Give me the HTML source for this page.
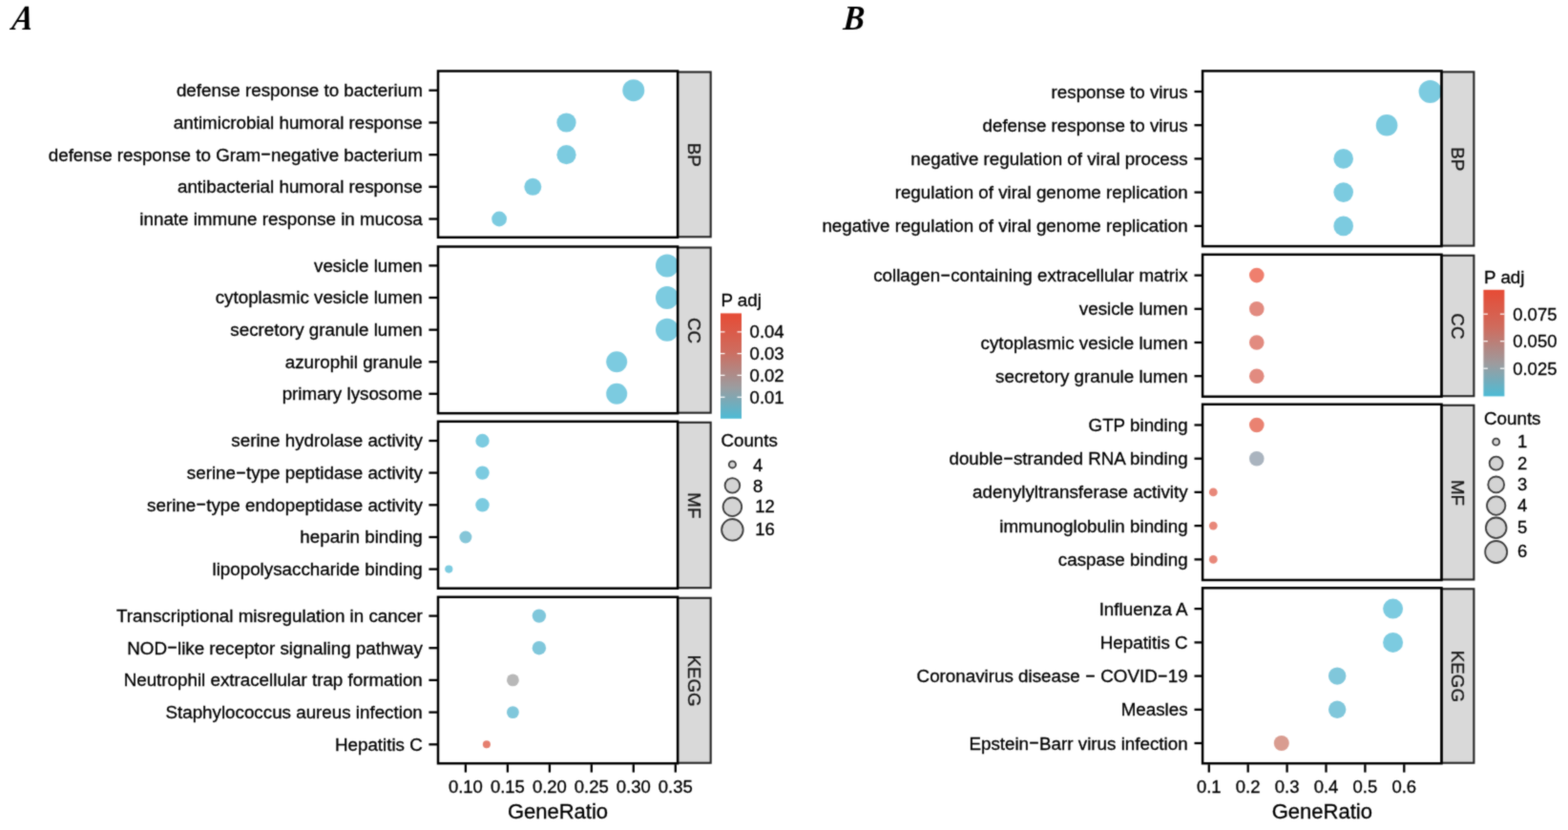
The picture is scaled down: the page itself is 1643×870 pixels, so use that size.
<!DOCTYPE html>
<html lang="en">
<head>
<meta charset="utf-8">
<title>GO / KEGG enrichment dot plots</title>
<style>
html,body{margin:0;padding:0;background:#fff;}
body{width:1643px;height:870px;overflow:hidden;}
svg{display:block;}
text{font-family:"Liberation Sans",Arial,Helvetica,sans-serif;fill:#000;stroke:#000;stroke-width:0.3px;}
.d{stroke-width:0.45px;}
.yl{font-size:18.8px;}
.xt{font-size:18.5px;}
.at{font-size:22px;}
.lt{font-size:18.8px;}
.ll{font-size:18.5px;}
.st{font-size:18.8px;fill:#1a1a1a;}
.pl{font-family:"Liberation Serif","Times New Roman",serif;font-weight:bold;font-style:italic;stroke:none;font-size:36.6px;}
</style>
</head>
<body>
<svg width="1643" height="870" viewBox="0 0 1643 870">
<defs>
<linearGradient id="cb" x1="0" y1="0" x2="0" y2="1">
<stop offset="0" stop-color="#e64b35"/>
<stop offset="0.35" stop-color="#cf6b5d"/>
<stop offset="0.70" stop-color="#9c9c9f"/>
<stop offset="1" stop-color="#4dbbd5"/>
</linearGradient>
<filter id="soft" x="-5" y="-5" width="1653" height="880" filterUnits="userSpaceOnUse" color-interpolation-filters="sRGB"><feConvolveMatrix order="3" kernelMatrix="0.4 1 0.4 1 5 1 0.4 1 0.4" edgeMode="duplicate" preserveAlpha="true"/></filter>
</defs>
<g filter="url(#soft)">
<rect x="-5" y="-5" width="1653" height="880" fill="#fff"/>

<text class="pl" transform="translate(11.6 30.7) skewX(-9) scale(0.9 1)">A</text>
<text class="pl" transform="translate(883.0 30.7) skewX(-4) scale(0.91 1)">B</text>
<g id="panelA">
<g>
<circle cx="663.8" cy="94.7" r="11.5" fill="#7ccbe0"/>
<circle cx="593.5" cy="128.5" r="10.1" fill="#7ccbe0"/>
<circle cx="593.5" cy="162.2" r="10.1" fill="#7ccbe0"/>
<circle cx="558.3" cy="195.8" r="9.0" fill="#7ccbe0"/>
<circle cx="523.1" cy="229.5" r="7.9" fill="#7ccbe0"/>
</g>
<g>
<circle cx="699.0" cy="278.4" r="12.0" fill="#7ccbe0"/>
<circle cx="699.0" cy="312.0" r="12.0" fill="#7ccbe0"/>
<circle cx="699.0" cy="345.7" r="12.0" fill="#7ccbe0"/>
<circle cx="646.2" cy="379.3" r="11.0" fill="#7ccbe0"/>
<circle cx="646.2" cy="412.8" r="11.0" fill="#7ccbe0"/>
</g>
<g>
<circle cx="505.5" cy="462.0" r="7.2" fill="#7ccbe0"/>
<circle cx="505.5" cy="495.6" r="7.2" fill="#7ccbe0"/>
<circle cx="505.5" cy="529.3" r="7.2" fill="#7ccbe0"/>
<circle cx="487.9" cy="563.0" r="6.5" fill="#85c6d8"/>
<circle cx="470.3" cy="596.6" r="4.1" fill="#7ccbe0"/>
</g>
<g>
<circle cx="564.9" cy="645.6" r="7.2" fill="#80c7db"/>
<circle cx="564.9" cy="679.2" r="7.2" fill="#80c7db"/>
<circle cx="537.4" cy="712.9" r="6.4" fill="#b8b8b8"/>
<circle cx="537.4" cy="746.6" r="6.4" fill="#80c7db"/>
<circle cx="509.9" cy="780.3" r="4.0" fill="#e57f6f"/>
</g>
<rect x="710.1" y="75.5" width="34.6" height="172.8" fill="#d9d9d9" stroke="#262626" stroke-width="2.1"/>
<rect x="459.0" y="74.5" width="251.1" height="174.3" fill="none" stroke="#000" stroke-width="2.5"/>
<text class="st" text-anchor="middle" transform="translate(727.4 162.2) rotate(90)" y="6.8">BP</text>
<line x1="449.4" y1="94.7" x2="458.0" y2="94.7" stroke="#000" stroke-width="2.3"/>
<text class="yl" text-anchor="end" x="442.8" y="101.1">defense response to bacterium</text>
<line x1="449.4" y1="128.5" x2="458.0" y2="128.5" stroke="#000" stroke-width="2.3"/>
<text class="yl" text-anchor="end" x="442.8" y="134.9">antimicrobial humoral response</text>
<line x1="449.4" y1="162.2" x2="458.0" y2="162.2" stroke="#000" stroke-width="2.3"/>
<text class="yl" text-anchor="end" x="442.8" y="168.6">defense response to Gram<tspan class="d" textLength="10.98" lengthAdjust="spacingAndGlyphs" dy="-1.32">-</tspan><tspan dy="1.32">negative bacterium</tspan></text>
<line x1="449.4" y1="195.8" x2="458.0" y2="195.8" stroke="#000" stroke-width="2.3"/>
<text class="yl" text-anchor="end" x="442.8" y="202.2">antibacterial humoral response</text>
<line x1="449.4" y1="229.5" x2="458.0" y2="229.5" stroke="#000" stroke-width="2.3"/>
<text class="yl" text-anchor="end" x="442.8" y="235.9">innate immune response in mucosa</text>
<rect x="710.1" y="259.5" width="34.6" height="173.2" fill="#d9d9d9" stroke="#262626" stroke-width="2.1"/>
<rect x="459.0" y="258.5" width="251.1" height="174.7" fill="none" stroke="#000" stroke-width="2.5"/>
<text class="st" text-anchor="middle" transform="translate(727.4 346.5) rotate(90)" y="6.8">CC</text>
<line x1="449.4" y1="278.4" x2="458.0" y2="278.4" stroke="#000" stroke-width="2.3"/>
<text class="yl" text-anchor="end" x="442.8" y="284.8">vesicle lumen</text>
<line x1="449.4" y1="312.0" x2="458.0" y2="312.0" stroke="#000" stroke-width="2.3"/>
<text class="yl" text-anchor="end" x="442.8" y="318.4">cytoplasmic vesicle lumen</text>
<line x1="449.4" y1="345.7" x2="458.0" y2="345.7" stroke="#000" stroke-width="2.3"/>
<text class="yl" text-anchor="end" x="442.8" y="352.1">secretory granule lumen</text>
<line x1="449.4" y1="379.3" x2="458.0" y2="379.3" stroke="#000" stroke-width="2.3"/>
<text class="yl" text-anchor="end" x="442.8" y="385.7">azurophil granule</text>
<line x1="449.4" y1="412.8" x2="458.0" y2="412.8" stroke="#000" stroke-width="2.3"/>
<text class="yl" text-anchor="end" x="442.8" y="419.2">primary lysosome</text>
<rect x="710.1" y="442.8" width="34.6" height="173.4" fill="#d9d9d9" stroke="#262626" stroke-width="2.1"/>
<rect x="459.0" y="441.8" width="251.1" height="174.9" fill="none" stroke="#000" stroke-width="2.5"/>
<text class="st" text-anchor="middle" transform="translate(727.4 529.9) rotate(90)" y="6.8">MF</text>
<line x1="449.4" y1="462.0" x2="458.0" y2="462.0" stroke="#000" stroke-width="2.3"/>
<text class="yl" text-anchor="end" x="442.8" y="468.4">serine hydrolase activity</text>
<line x1="449.4" y1="495.6" x2="458.0" y2="495.6" stroke="#000" stroke-width="2.3"/>
<text class="yl" text-anchor="end" x="442.8" y="502.0">serine<tspan class="d" textLength="10.98" lengthAdjust="spacingAndGlyphs" dy="-1.32">-</tspan><tspan dy="1.32">type peptidase activity</tspan></text>
<line x1="449.4" y1="529.3" x2="458.0" y2="529.3" stroke="#000" stroke-width="2.3"/>
<text class="yl" text-anchor="end" x="442.8" y="535.7">serine<tspan class="d" textLength="10.98" lengthAdjust="spacingAndGlyphs" dy="-1.32">-</tspan><tspan dy="1.32">type endopeptidase activity</tspan></text>
<line x1="449.4" y1="563.0" x2="458.0" y2="563.0" stroke="#000" stroke-width="2.3"/>
<text class="yl" text-anchor="end" x="442.8" y="569.4">heparin binding</text>
<line x1="449.4" y1="596.6" x2="458.0" y2="596.6" stroke="#000" stroke-width="2.3"/>
<text class="yl" text-anchor="end" x="442.8" y="603.0">lipopolysaccharide binding</text>
<rect x="710.1" y="626.8" width="34.6" height="172.9" fill="#d9d9d9" stroke="#262626" stroke-width="2.1"/>
<rect x="459.0" y="625.8" width="251.1" height="174.4" fill="none" stroke="#000" stroke-width="2.5"/>
<text class="st" text-anchor="middle" transform="translate(727.4 713.6) rotate(90)" y="6.8">KEGG</text>
<line x1="449.4" y1="645.6" x2="458.0" y2="645.6" stroke="#000" stroke-width="2.3"/>
<text class="yl" text-anchor="end" x="442.8" y="652.0">Transcriptional misregulation in cancer</text>
<line x1="449.4" y1="679.2" x2="458.0" y2="679.2" stroke="#000" stroke-width="2.3"/>
<text class="yl" text-anchor="end" x="442.8" y="685.6">NOD<tspan class="d" textLength="10.98" lengthAdjust="spacingAndGlyphs" dy="-1.32">-</tspan><tspan dy="1.32">like receptor signaling pathway</tspan></text>
<line x1="449.4" y1="712.9" x2="458.0" y2="712.9" stroke="#000" stroke-width="2.3"/>
<text class="yl" text-anchor="end" x="442.8" y="719.3">Neutrophil extracellular trap formation</text>
<line x1="449.4" y1="746.6" x2="458.0" y2="746.6" stroke="#000" stroke-width="2.3"/>
<text class="yl" text-anchor="end" x="442.8" y="753.0">Staphylococcus aureus infection</text>
<line x1="449.4" y1="780.3" x2="458.0" y2="780.3" stroke="#000" stroke-width="2.3"/>
<text class="yl" text-anchor="end" x="442.8" y="786.7">Hepatitis C</text>
<line x1="487.9" y1="801.2" x2="487.9" y2="809.6" stroke="#000" stroke-width="2.3"/>
<text class="xt" text-anchor="middle" x="487.9" y="830.6">0.10</text>
<line x1="531.9" y1="801.2" x2="531.9" y2="809.6" stroke="#000" stroke-width="2.3"/>
<text class="xt" text-anchor="middle" x="531.9" y="830.6">0.15</text>
<line x1="575.9" y1="801.2" x2="575.9" y2="809.6" stroke="#000" stroke-width="2.3"/>
<text class="xt" text-anchor="middle" x="575.9" y="830.6">0.20</text>
<line x1="619.8" y1="801.2" x2="619.8" y2="809.6" stroke="#000" stroke-width="2.3"/>
<text class="xt" text-anchor="middle" x="619.8" y="830.6">0.25</text>
<line x1="663.8" y1="801.2" x2="663.8" y2="809.6" stroke="#000" stroke-width="2.3"/>
<text class="xt" text-anchor="middle" x="663.8" y="830.6">0.30</text>
<line x1="707.8" y1="801.2" x2="707.8" y2="809.6" stroke="#000" stroke-width="2.3"/>
<text class="xt" text-anchor="middle" x="707.8" y="830.6">0.35</text>
<text class="at" text-anchor="middle" x="584.5" y="857.8">GeneRatio</text>
<text class="lt" x="755.4" y="321.0">P adj</text>
<rect x="755.0" y="328.4" width="22.0" height="110.4" fill="url(#cb)"/>
<line x1="755.0" y1="347.9" x2="759.5" y2="347.9" stroke="#fff" stroke-width="1.2"/>
<line x1="772.5" y1="347.9" x2="777.0" y2="347.9" stroke="#fff" stroke-width="1.2"/>
<text class="ll" x="785.6" y="354.3">0.04</text>
<line x1="755.0" y1="370.6" x2="759.5" y2="370.6" stroke="#fff" stroke-width="1.2"/>
<line x1="772.5" y1="370.6" x2="777.0" y2="370.6" stroke="#fff" stroke-width="1.2"/>
<text class="ll" x="785.6" y="377.0">0.03</text>
<line x1="755.0" y1="393.4" x2="759.5" y2="393.4" stroke="#fff" stroke-width="1.2"/>
<line x1="772.5" y1="393.4" x2="777.0" y2="393.4" stroke="#fff" stroke-width="1.2"/>
<text class="ll" x="785.6" y="399.8">0.02</text>
<line x1="755.0" y1="416.3" x2="759.5" y2="416.3" stroke="#fff" stroke-width="1.2"/>
<line x1="772.5" y1="416.3" x2="777.0" y2="416.3" stroke="#fff" stroke-width="1.2"/>
<text class="ll" x="785.6" y="422.7">0.01</text>
<text class="lt" x="755.4" y="468.2">Counts</text>
<circle cx="767.4" cy="486.9" r="3.6" fill="#d4d4d4" stroke="#3c3c3c" stroke-width="1.8"/>
<text class="ll" x="789.0" y="494.0">4</text>
<circle cx="767.4" cy="508.9" r="7.8" fill="#d4d4d4" stroke="#3c3c3c" stroke-width="1.8"/>
<text class="ll" x="789.0" y="515.8">8</text>
<circle cx="767.4" cy="531.3" r="9.8" fill="#d4d4d4" stroke="#3c3c3c" stroke-width="1.8"/>
<text class="ll" x="791.2" y="536.8">12</text>
<circle cx="767.4" cy="555.3" r="11.3" fill="#d4d4d4" stroke="#3c3c3c" stroke-width="1.8"/>
<text class="ll" x="791.2" y="561.2">16</text>
</g>
<g id="panelB">
<g>
<circle cx="1498.6" cy="96.0" r="12.0" fill="#7ccbe0"/>
<circle cx="1453.1" cy="131.2" r="11.3" fill="#7ccbe0"/>
<circle cx="1407.7" cy="166.4" r="10.3" fill="#7ccbe0"/>
<circle cx="1407.7" cy="201.6" r="10.3" fill="#7ccbe0"/>
<circle cx="1407.7" cy="236.9" r="10.3" fill="#7ccbe0"/>
</g>
<g>
<circle cx="1316.8" cy="288.6" r="7.8" fill="#ef7f6e"/>
<circle cx="1316.8" cy="323.8" r="7.8" fill="#e28b80"/>
<circle cx="1316.8" cy="359.0" r="7.8" fill="#e28b80"/>
<circle cx="1316.8" cy="394.2" r="7.8" fill="#e28b80"/>
</g>
<g>
<circle cx="1316.8" cy="445.5" r="7.8" fill="#ea8271"/>
<circle cx="1316.8" cy="480.7" r="7.8" fill="#aab4bf"/>
<circle cx="1271.3" cy="515.9" r="4.4" fill="#e8887a"/>
<circle cx="1271.3" cy="551.1" r="4.4" fill="#e8887a"/>
<circle cx="1271.3" cy="586.4" r="4.4" fill="#e8887a"/>
</g>
<g>
<circle cx="1459.6" cy="638.1" r="10.5" fill="#7ccbe0"/>
<circle cx="1459.6" cy="673.4" r="10.5" fill="#7ccbe0"/>
<circle cx="1401.2" cy="708.6" r="9.2" fill="#80c7db"/>
<circle cx="1401.2" cy="743.8" r="9.2" fill="#80c7db"/>
<circle cx="1342.8" cy="779.0" r="8.0" fill="#d99c90"/>
</g>
<rect x="1510.5" y="75.4" width="33.9" height="182.2" fill="#d9d9d9" stroke="#262626" stroke-width="2.1"/>
<rect x="1260.1" y="74.4" width="250.4" height="183.7" fill="none" stroke="#000" stroke-width="2.5"/>
<text class="st" text-anchor="middle" transform="translate(1527.5 166.8) rotate(90)" y="6.8">BP</text>
<line x1="1251.5" y1="96.0" x2="1259.1" y2="96.0" stroke="#000" stroke-width="2.3"/>
<text class="yl" text-anchor="end" x="1244.6" y="102.5">response to virus</text>
<line x1="1251.5" y1="131.2" x2="1259.1" y2="131.2" stroke="#000" stroke-width="2.3"/>
<text class="yl" text-anchor="end" x="1244.6" y="137.7">defense response to virus</text>
<line x1="1251.5" y1="166.4" x2="1259.1" y2="166.4" stroke="#000" stroke-width="2.3"/>
<text class="yl" text-anchor="end" x="1244.6" y="172.9">negative regulation of viral process</text>
<line x1="1251.5" y1="201.6" x2="1259.1" y2="201.6" stroke="#000" stroke-width="2.3"/>
<text class="yl" text-anchor="end" x="1244.6" y="208.1">regulation of viral genome replication</text>
<line x1="1251.5" y1="236.9" x2="1259.1" y2="236.9" stroke="#000" stroke-width="2.3"/>
<text class="yl" text-anchor="end" x="1244.6" y="243.4">negative regulation of viral genome replication</text>
<rect x="1510.5" y="267.8" width="33.9" height="147.4" fill="#d9d9d9" stroke="#262626" stroke-width="2.1"/>
<rect x="1260.1" y="266.8" width="250.4" height="148.9" fill="none" stroke="#000" stroke-width="2.5"/>
<text class="st" text-anchor="middle" transform="translate(1527.5 341.9) rotate(90)" y="6.8">CC</text>
<line x1="1251.5" y1="288.6" x2="1259.1" y2="288.6" stroke="#000" stroke-width="2.3"/>
<text class="yl" text-anchor="end" x="1244.6" y="295.1">collagen<tspan class="d" textLength="10.98" lengthAdjust="spacingAndGlyphs" dy="-1.32">-</tspan><tspan dy="1.32">containing extracellular matrix</tspan></text>
<line x1="1251.5" y1="323.8" x2="1259.1" y2="323.8" stroke="#000" stroke-width="2.3"/>
<text class="yl" text-anchor="end" x="1244.6" y="330.3">vesicle lumen</text>
<line x1="1251.5" y1="359.0" x2="1259.1" y2="359.0" stroke="#000" stroke-width="2.3"/>
<text class="yl" text-anchor="end" x="1244.6" y="365.5">cytoplasmic vesicle lumen</text>
<line x1="1251.5" y1="394.2" x2="1259.1" y2="394.2" stroke="#000" stroke-width="2.3"/>
<text class="yl" text-anchor="end" x="1244.6" y="400.7">secretory granule lumen</text>
<rect x="1510.5" y="424.8" width="33.9" height="182.7" fill="#d9d9d9" stroke="#262626" stroke-width="2.1"/>
<rect x="1260.1" y="423.8" width="250.4" height="184.2" fill="none" stroke="#000" stroke-width="2.5"/>
<text class="st" text-anchor="middle" transform="translate(1527.5 516.5) rotate(90)" y="6.8">MF</text>
<line x1="1251.5" y1="445.5" x2="1259.1" y2="445.5" stroke="#000" stroke-width="2.3"/>
<text class="yl" text-anchor="end" x="1244.6" y="452.0">GTP binding</text>
<line x1="1251.5" y1="480.7" x2="1259.1" y2="480.7" stroke="#000" stroke-width="2.3"/>
<text class="yl" text-anchor="end" x="1244.6" y="487.2">double<tspan class="d" textLength="10.98" lengthAdjust="spacingAndGlyphs" dy="-1.32">-</tspan><tspan dy="1.32">stranded RNA binding</tspan></text>
<line x1="1251.5" y1="515.9" x2="1259.1" y2="515.9" stroke="#000" stroke-width="2.3"/>
<text class="yl" text-anchor="end" x="1244.6" y="522.4">adenylyltransferase activity</text>
<line x1="1251.5" y1="551.1" x2="1259.1" y2="551.1" stroke="#000" stroke-width="2.3"/>
<text class="yl" text-anchor="end" x="1244.6" y="557.6">immunoglobulin binding</text>
<line x1="1251.5" y1="586.4" x2="1259.1" y2="586.4" stroke="#000" stroke-width="2.3"/>
<text class="yl" text-anchor="end" x="1244.6" y="592.9">caspase binding</text>
<rect x="1510.5" y="617.3" width="33.9" height="182.4" fill="#d9d9d9" stroke="#262626" stroke-width="2.1"/>
<rect x="1260.1" y="616.3" width="250.4" height="183.9" fill="none" stroke="#000" stroke-width="2.5"/>
<text class="st" text-anchor="middle" transform="translate(1527.5 708.9) rotate(90)" y="6.8">KEGG</text>
<line x1="1251.5" y1="638.1" x2="1259.1" y2="638.1" stroke="#000" stroke-width="2.3"/>
<text class="yl" text-anchor="end" x="1244.6" y="644.6">Influenza A</text>
<line x1="1251.5" y1="673.4" x2="1259.1" y2="673.4" stroke="#000" stroke-width="2.3"/>
<text class="yl" text-anchor="end" x="1244.6" y="679.9">Hepatitis C</text>
<line x1="1251.5" y1="708.6" x2="1259.1" y2="708.6" stroke="#000" stroke-width="2.3"/>
<text class="yl" text-anchor="end" x="1244.6" y="715.1">Coronavirus disease <tspan class="d" textLength="10.98" lengthAdjust="spacingAndGlyphs" dy="-1.32">-</tspan><tspan dy="1.32"> COVID</tspan><tspan class="d" textLength="10.98" lengthAdjust="spacingAndGlyphs" dy="-1.32">-</tspan><tspan dy="1.32">19</tspan></text>
<line x1="1251.5" y1="743.8" x2="1259.1" y2="743.8" stroke="#000" stroke-width="2.3"/>
<text class="yl" text-anchor="end" x="1244.6" y="750.3">Measles</text>
<line x1="1251.5" y1="779.0" x2="1259.1" y2="779.0" stroke="#000" stroke-width="2.3"/>
<text class="yl" text-anchor="end" x="1244.6" y="785.5">Epstein<tspan class="d" textLength="10.98" lengthAdjust="spacingAndGlyphs" dy="-1.32">-</tspan><tspan dy="1.32">Barr virus infection</tspan></text>
<line x1="1266.8" y1="801.2" x2="1266.8" y2="809.6" stroke="#000" stroke-width="2.3"/>
<text class="xt" text-anchor="middle" x="1266.8" y="830.6">0.1</text>
<line x1="1307.7" y1="801.2" x2="1307.7" y2="809.6" stroke="#000" stroke-width="2.3"/>
<text class="xt" text-anchor="middle" x="1307.7" y="830.6">0.2</text>
<line x1="1348.6" y1="801.2" x2="1348.6" y2="809.6" stroke="#000" stroke-width="2.3"/>
<text class="xt" text-anchor="middle" x="1348.6" y="830.6">0.3</text>
<line x1="1389.5" y1="801.2" x2="1389.5" y2="809.6" stroke="#000" stroke-width="2.3"/>
<text class="xt" text-anchor="middle" x="1389.5" y="830.6">0.4</text>
<line x1="1430.4" y1="801.2" x2="1430.4" y2="809.6" stroke="#000" stroke-width="2.3"/>
<text class="xt" text-anchor="middle" x="1430.4" y="830.6">0.5</text>
<line x1="1471.3" y1="801.2" x2="1471.3" y2="809.6" stroke="#000" stroke-width="2.3"/>
<text class="xt" text-anchor="middle" x="1471.3" y="830.6">0.6</text>
<text class="at" text-anchor="middle" x="1385.3" y="858.0">GeneRatio</text>
<text class="lt" x="1555.0" y="296.9">P adj</text>
<rect x="1554.4" y="303.8" width="22.0" height="111.6" fill="url(#cb)"/>
<line x1="1554.4" y1="329.2" x2="1558.9" y2="329.2" stroke="#fff" stroke-width="1.2"/>
<line x1="1571.9" y1="329.2" x2="1576.4" y2="329.2" stroke="#fff" stroke-width="1.2"/>
<text class="ll" x="1585.2" y="335.6">0.075</text>
<line x1="1554.4" y1="357.7" x2="1558.9" y2="357.7" stroke="#fff" stroke-width="1.2"/>
<line x1="1571.9" y1="357.7" x2="1576.4" y2="357.7" stroke="#fff" stroke-width="1.2"/>
<text class="ll" x="1585.2" y="364.1">0.050</text>
<line x1="1554.4" y1="386.2" x2="1558.9" y2="386.2" stroke="#fff" stroke-width="1.2"/>
<line x1="1571.9" y1="386.2" x2="1576.4" y2="386.2" stroke="#fff" stroke-width="1.2"/>
<text class="ll" x="1585.2" y="392.6">0.025</text>
<text class="lt" x="1555.0" y="445.2">Counts</text>
<circle cx="1567.7" cy="463.2" r="3.5" fill="#d4d4d4" stroke="#3c3c3c" stroke-width="1.8"/>
<text class="ll" x="1590.0" y="468.7">1</text>
<circle cx="1567.7" cy="485.7" r="7.0" fill="#d4d4d4" stroke="#3c3c3c" stroke-width="1.8"/>
<text class="ll" x="1590.0" y="492.2">2</text>
<circle cx="1567.7" cy="507.9" r="8.4" fill="#d4d4d4" stroke="#3c3c3c" stroke-width="1.8"/>
<text class="ll" x="1590.0" y="514.0">3</text>
<circle cx="1567.7" cy="530.1" r="9.7" fill="#d4d4d4" stroke="#3c3c3c" stroke-width="1.8"/>
<text class="ll" x="1590.0" y="535.6">4</text>
<circle cx="1567.7" cy="553.3" r="10.8" fill="#d4d4d4" stroke="#3c3c3c" stroke-width="1.8"/>
<text class="ll" x="1590.0" y="559.2">5</text>
<circle cx="1567.7" cy="578.5" r="11.5" fill="#d4d4d4" stroke="#3c3c3c" stroke-width="1.8"/>
<text class="ll" x="1590.0" y="584.2">6</text>
</g>
</g>
</svg>
</body>
</html>
